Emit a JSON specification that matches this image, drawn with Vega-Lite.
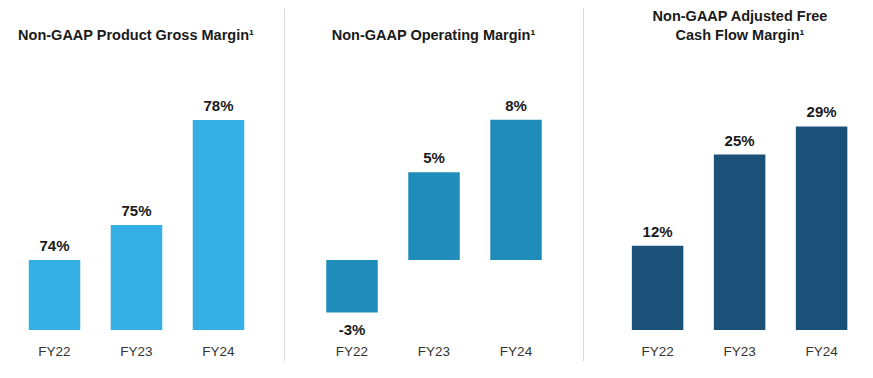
{
  "$schema": "https://vega.github.io/schema/vega-lite/v6.json",
  "background": "white",
  "padding": {"left": 0, "top": 8, "right": 0, "bottom": 0},
  "spacing": 0,
  "datasets": {
    "gross": [
      {"year": "FY22", "value": 74, "label": "74%"},
      {"year": "FY23", "value": 75, "label": "75%"},
      {"year": "FY24", "value": 78, "label": "78%"}
    ],
    "operating": [
      {"year": "FY22", "value": -3, "label": "-3%"},
      {"year": "FY23", "value": 5, "label": "5%"},
      {"year": "FY24", "value": 8, "label": "8%"}
    ],
    "fcf": [
      {"year": "FY22", "value": 12, "label": "12%"},
      {"year": "FY23", "value": 25, "label": "25%"},
      {"year": "FY24", "value": 29, "label": "29%"}
    ]
  },
  "config": {
    "view": {"stroke": null},
    "font": "Liberation Sans",
    "title": {
      "font": "Liberation Sans",
      "fontSize": 14.5,
      "fontWeight": "bold",
      "color": "#1a1a1a",
      "anchor": "middle",
      "frame": "group",
      "offset": -35,
      "baseline": "bottom",
      "lineHeight": 19
    },
    "axisX": {
      "title": null,
      "labelAngle": 0,
      "domain": false,
      "ticks": false,
      "grid": false,
      "offset": -6,
      "labelPadding": 0,
      "labelBaseline": "alphabetic",
      "labelFont": "Liberation Sans",
      "labelFontSize": 13.5,
      "labelColor": "#333333"
    },
    "axisY": {
      "title": null,
      "labels": false,
      "ticks": false,
      "grid": false,
      "domain": true,
      "domainColor": "#d9d9d9",
      "domainWidth": 1
    }
  },
  "hconcat": [
    {
      "width": 284,
      "height": 353,
      "data": {"name": "gross"},
      "title": {"text": "Non-GAAP Product Gross Margin¹", "dx": -6},
      "encoding": {
        "x": {"field": "year", "type": "nominal", "sort": null,
              "scale": {"paddingInner": 0.372, "paddingOuter": 0.4177, "align": 0.4197}}
      },
      "layer": [
        {
          "mark": {"type": "bar", "color": "#35B0E5"},
          "encoding": {
            "y": {"field": "value", "type": "quantitative",
                  "scale": {"domain": [71.114, 81.2], "nice": false, "zero": false},
                  "axis": null},
            "y2": {"datum": 72}
          }
        },
        {
          "mark": {"type": "text", "dy": -9, "baseline": "alphabetic", "fontSize": 15, "fontWeight": "bold", "color": "#1a1a1a"},
          "encoding": {
            "y": {"field": "value", "type": "quantitative"},
            "text": {"field": "label"}
          }
        }
      ]
    },
    {
      "width": 299,
      "height": 353,
      "data": {"name": "operating"},
      "title": {"text": "Non-GAAP Operating Margin¹", "dx": 0},
      "encoding": {
        "x": {"field": "year", "type": "nominal", "sort": null,
              "scale": {"paddingInner": 0.372, "paddingOuter": 0.509, "align": 0.506}}
      },
      "layer": [
        {
          "mark": {"type": "bar", "color": "#1F8CB9"},
          "encoding": {
            "y": {"field": "value", "type": "quantitative",
                  "scale": {"domain": [-5.762, 14.375], "nice": false, "zero": false}},
            "y2": {"datum": 0}
          }
        },
        {
          "transform": [{"filter": "datum.value >= 0"}],
          "mark": {"type": "text", "dy": -9, "baseline": "alphabetic", "fontSize": 15, "fontWeight": "bold", "color": "#1a1a1a"},
          "encoding": {
            "y": {"field": "value", "type": "quantitative"},
            "text": {"field": "label"}
          }
        },
        {
          "transform": [{"filter": "datum.value < 0"}],
          "mark": {"type": "text", "dy": 22, "baseline": "alphabetic", "fontSize": 15, "fontWeight": "bold", "color": "#1a1a1a"},
          "encoding": {
            "y": {"field": "value", "type": "quantitative"},
            "text": {"field": "label"}
          }
        }
      ]
    },
    {
      "width": 290,
      "height": 353,
      "data": {"name": "fcf"},
      "title": {"text": ["Non-GAAP Adjusted Free", "Cash Flow Margin¹"], "dx": 12},
      "encoding": {
        "x": {"field": "year", "type": "nominal", "sort": null,
              "scale": {"paddingInner": 0.372, "paddingOuter": 0.4543, "align": 0.6557}}
      },
      "layer": [
        {
          "mark": {"type": "bar", "color": "#1B5078"},
          "encoding": {
            "y": {"field": "value", "type": "quantitative",
                  "scale": {"domain": [-4.416, 45.87], "nice": false, "zero": false}},
            "y2": {"datum": 0}
          }
        },
        {
          "mark": {"type": "text", "dy": -9, "baseline": "alphabetic", "fontSize": 15, "fontWeight": "bold", "color": "#1a1a1a"},
          "encoding": {
            "y": {"field": "value", "type": "quantitative"},
            "text": {"field": "label"}
          }
        }
      ]
    }
  ]
}
